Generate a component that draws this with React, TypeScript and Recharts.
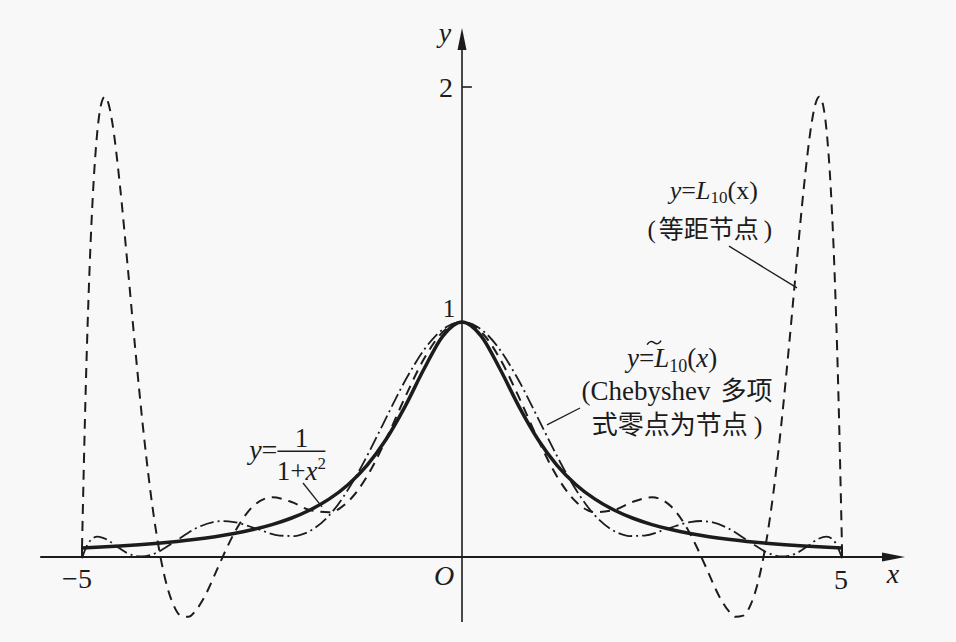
import React from "react";
import { LineChart, Line, XAxis, YAxis, ReferenceLine, ReferenceDot } from "recharts";

// f(x) = 1/(1+x^2)
const F_X = [-5, -4.75, -4.5, -4.25, -4, -3.75, -3.5, -3.25, -3, -2.75, -2.5, -2.25, -2, -1.75, -1.5, -1.25, -1, -0.75, -0.5, -0.25, 0, 0.25, 0.5, 0.75, 1, 1.25, 1.5, 1.75, 2, 2.25, 2.5, 2.75, 3, 3.25, 3.5, 3.75, 4, 4.25, 4.5, 4.75, 5];
const F_Y = [0.0385, 0.0424, 0.0471, 0.0525, 0.0588, 0.0664, 0.0755, 0.0865, 0.1, 0.1168, 0.1379, 0.1649, 0.2, 0.2462, 0.3077, 0.3902, 0.5, 0.64, 0.8, 0.9412, 1, 0.9412, 0.8, 0.64, 0.5, 0.3902, 0.3077, 0.2462, 0.2, 0.1649, 0.1379, 0.1168, 0.1, 0.0865, 0.0755, 0.0664, 0.0588, 0.0525, 0.0471, 0.0424, 0.0385];

// L10(x), equidistant nodes
const L10_X = [-5, -4.95, -4.9, -4.85, -4.8, -4.75, -4.7, -4.65, -4.6, -4.5, -4.4, -4.3, -4.2, -4.1, -4, -3.9, -3.8, -3.7, -3.6, -3.5, -3.4, -3.2, -3.1, -3, -2.75, -2.5, -2.25, -2, -1.75, -1.5, -1.25, -1, -0.75, -0.5, -0.25, 0, 0.25, 0.5, 0.75, 1, 1.25, 1.5, 1.75, 2, 2.25, 2.5, 2.75, 3, 3.1, 3.2, 3.4, 3.5, 3.6, 3.7, 3.8, 3.9, 4, 4.1, 4.2, 4.3, 4.4, 4.5, 4.6, 4.65, 4.7, 4.75, 4.8, 4.85, 4.9, 4.95, 5];
const L10_Y = [0.0385, 0.7261, 1.2303, 1.5811, 1.8045, 1.924, 1.959, 1.928, 1.846, 1.5787, 1.2402, 0.8881, 0.5604, 0.2802, 0.0588, -0.1007, -0.2013, -0.2496, -0.2546, -0.2262, -0.1766, -0.0363, 0.0349, 0.1, 0.2156, 0.2538, 0.235, 0.2, 0.1906, 0.2353, 0.3426, 0.5, 0.679, 0.8434, 0.9586, 1, 0.9586, 0.8434, 0.679, 0.5, 0.3426, 0.2353, 0.1906, 0.2, 0.235, 0.2538, 0.2156, 0.1, 0.0349, -0.0363, -0.1766, -0.2262, -0.2546, -0.2496, -0.2013, -0.1007, 0.0588, 0.2802, 0.5604, 0.8881, 1.2402, 1.5787, 1.846, 1.928, 1.959, 1.924, 1.8045, 1.5811, 1.2303, 0.7261, 0.0385];

// L10~(x), Chebyshev nodes
const CHEB_X = [-5, -4.949, -4.88, -4.797, -4.68, -4.548, -4.4, -4.3, -4.206, -4.1, -4, -3.779, -3.5, -3.274, -3.15, -3, -2.703, -2.4, -2.2, -2.077, -1.75, -1.409, -1.2, -1.05, -0.712, -0.5, -0.35, -0.2, 0, 0.2, 0.35, 0.5, 0.712, 1.05, 1.2, 1.409, 1.75, 2.077, 2.2, 2.4, 2.703, 3, 3.15, 3.274, 3.5, 3.779, 4, 4.1, 4.206, 4.3, 4.4, 4.548, 4.68, 4.797, 4.88, 4.949, 5];
const CHEB_Y = [-0.0053, 0.0392, 0.0737, 0.0871, 0.0756, 0.0461, 0.0162, 0.0049, 0.0023, 0.0083, 0.0213, 0.0654, 0.1224, 0.1489, 0.1531, 0.1488, 0.1204, 0.0913, 0.0892, 0.0992, 0.1764, 0.335, 0.4611, 0.5583, 0.7712, 0.8813, 0.9404, 0.9802, 1, 0.9802, 0.9404, 0.8813, 0.7712, 0.5583, 0.4611, 0.335, 0.1764, 0.0992, 0.0892, 0.0913, 0.1204, 0.1488, 0.1531, 0.1489, 0.1224, 0.0654, 0.0213, 0.0083, 0.0023, 0.0049, 0.0162, 0.0461, 0.0756, 0.0871, 0.0737, 0.0392, -0.0053];

const INK = "#1c1c1c";
const SERIF = "'Liberation Serif', 'Times New Roman', serif";
const CJK = "'Noto Sans CJK SC', sans-serif";

const pts = (xs: number[], ys: number[]) => xs.map((x, i) => ({ x, y: ys[i] }));

// svg content placed at a data point (offsets inside are in px)
function anchor(key: string, x: number, y: number, content: React.ReactNode) {
  return (
    <ReferenceDot
      key={key}
      x={x}
      y={y}
      r={0}
      shape={(p: any) => (
        <g transform={`translate(${p.cx},${p.cy})`} fill={INK} fontFamily={SERIF}>
          {content}
        </g>
      )}
    />
  );
}

function seg(key: string, x1: number, y1: number, x2: number, y2: number, w = 1.3) {
  return (
    <ReferenceLine
      key={key}
      segment={[{ x: x1, y: y1 }, { x: x2, y: y2 }]}
      stroke={INK}
      strokeWidth={w}
    />
  );
}

export default function App() {
  return (
    <div style={{ position: "absolute", left: 0, top: 0, width: 956, height: 642, background: "#f8f8f8" }}>
      <LineChart width={956} height={642} margin={{ top: 16.5, right: 38, bottom: 14.5, left: 6 }}>
        <XAxis dataKey="x" type="number" domain={[-6, 6]} hide allowDataOverflow />
        <YAxis type="number" domain={[-0.3, 2.3]} hide allowDataOverflow />

        {/* axes */}
        {seg("xaxis", -5.55, 0, 5.6, 0, 2)}
        {seg("yaxis", 0, -0.277, 0, 2.17, 1.6)}
        {seg("tick2", 0, 2, 0.13, 2, 1.6)}
        {seg("tickm5", -5, 0, -5, 0.04, 2)}
        {seg("tick5", 5, 0, 5, 0.04, 2)}

        {/* leader lines */}
        {seg("leadL", 3.513, 1.323, 4.408, 1.145)}
        {seg("leadC", 1.553, 0.634, 1.118, 0.562)}
        {seg("leadF", -2.092, 0.315, -1.842, 0.213)}

        <Line data={pts(L10_X, L10_Y)} dataKey="y" type="monotone" stroke={INK} strokeWidth={2}
          strokeDasharray="10 7" dot={false} activeDot={false} isAnimationActive={false} />
        <Line data={pts(CHEB_X, CHEB_Y)} dataKey="y" type="monotone" stroke={INK} strokeWidth={1.8}
          strokeDasharray="14 4 2 4" dot={false} activeDot={false} isAnimationActive={false} />
        <Line data={pts(F_X, F_Y)} dataKey="y" type="monotone" stroke={INK} strokeWidth={3.5}
          dot={false} activeDot={false} isAnimationActive={false} />

        {/* arrows with axis names */}
        {anchor("yarrow", 0, 2.251, (
          <>
            <polygon points="0,0 -4.5,22 4.5,22" />
            <text x={-17} y={14} textAnchor="middle" fontSize={28} fontStyle="italic">y</text>
          </>
        ))}
        {anchor("xarrow", 5.829, 0, (
          <>
            <polygon points="0,0 -23,-4.5 -23,4.5" />
            <text x={-12} y={26} textAnchor="middle" fontSize={28} fontStyle="italic">x</text>
          </>
        ))}

        {/* tick labels */}
        {anchor("lab2", 0, 2, <text x={-16} y={10} textAnchor="middle" fontSize={28}>2</text>)}
        {anchor("lab1", 0, 1, <text x={-13} y={-5} textAnchor="middle" fontSize={25}>1</text>)}
        {anchor("labO", 0, 0, <text x={-18} y={28} textAnchor="middle" fontSize={28} fontStyle="italic">O</text>)}
        {anchor("labm5", -5, 0, <text x={-5} y={31} textAnchor="middle" fontSize={28}>−5</text>)}
        {anchor("lab5", 5, 0, <text x={-1} y={32} textAnchor="middle" fontSize={28}>5</text>)}

        {/* y = L10(x) (等距节点) */}
        {anchor("noteL", 3.3, 1.51, (
          <>
            <text x={1} y={-3} textAnchor="middle" fontSize={26}>
              <tspan fontStyle="italic">y</tspan>=<tspan fontStyle="italic">L</tspan>
              <tspan fontSize={17} dy={4}>10</tspan>
              <tspan dy={-4}>(x)</tspan>
            </text>
            <text x={-3} y={36} textAnchor="middle" fontSize={25}>
              (<tspan fontFamily={CJK} dx={3}>等距节点</tspan><tspan dx={5}>)</tspan>
            </text>
          </>
        ))}

        {/* y = L~10(x) (Chebyshev 多项式零点为节点) */}
        {anchor("noteC", 2.83, 0.81, (
          <>
            <text x={-50} y={0} textAnchor="start" fontSize={27}>
              <tspan fontStyle="italic">y</tspan>=<tspan fontStyle="italic">L</tspan>
              <tspan fontSize={18} dy={5}>10</tspan>
              <tspan dy={-5}>(</tspan><tspan fontStyle="italic">x</tspan>)
            </text>
            <path d="M-30,-22 q3,-5 7,-2 t7,-2" fill="none" stroke={INK} strokeWidth={1.5} />
            <text x={0} y={33} textAnchor="middle" fontSize={27}>
              (Chebyshev<tspan fontFamily={CJK} fontSize={26} dx={10}>多项</tspan>
            </text>
            <text x={0} y={67} textAnchor="middle" fontSize={26}>
              <tspan fontFamily={CJK}>式零点为节点</tspan><tspan dx={6}>)</tspan>
            </text>
          </>
        ))}

        {/* y = 1/(1+x^2) */}
        {anchor("noteF", -2.1, 0.45, (
          <>
            <text x={-25} y={8} textAnchor="end" fontSize={28}>
              <tspan fontStyle="italic">y</tspan>=
            </text>
            <line x1={-25} x2={23} y1={0} y2={0} stroke={INK} strokeWidth={1.5} />
            <text x={-1} y={-4} textAnchor="middle" fontSize={27}>1</text>
            <text x={-1} y={29} textAnchor="middle" fontSize={27}>
              1+<tspan fontStyle="italic">x</tspan>
              <tspan fontSize={17} dy={-11}>2</tspan>
            </text>
          </>
        ))}
      </LineChart>
    </div>
  );
}
